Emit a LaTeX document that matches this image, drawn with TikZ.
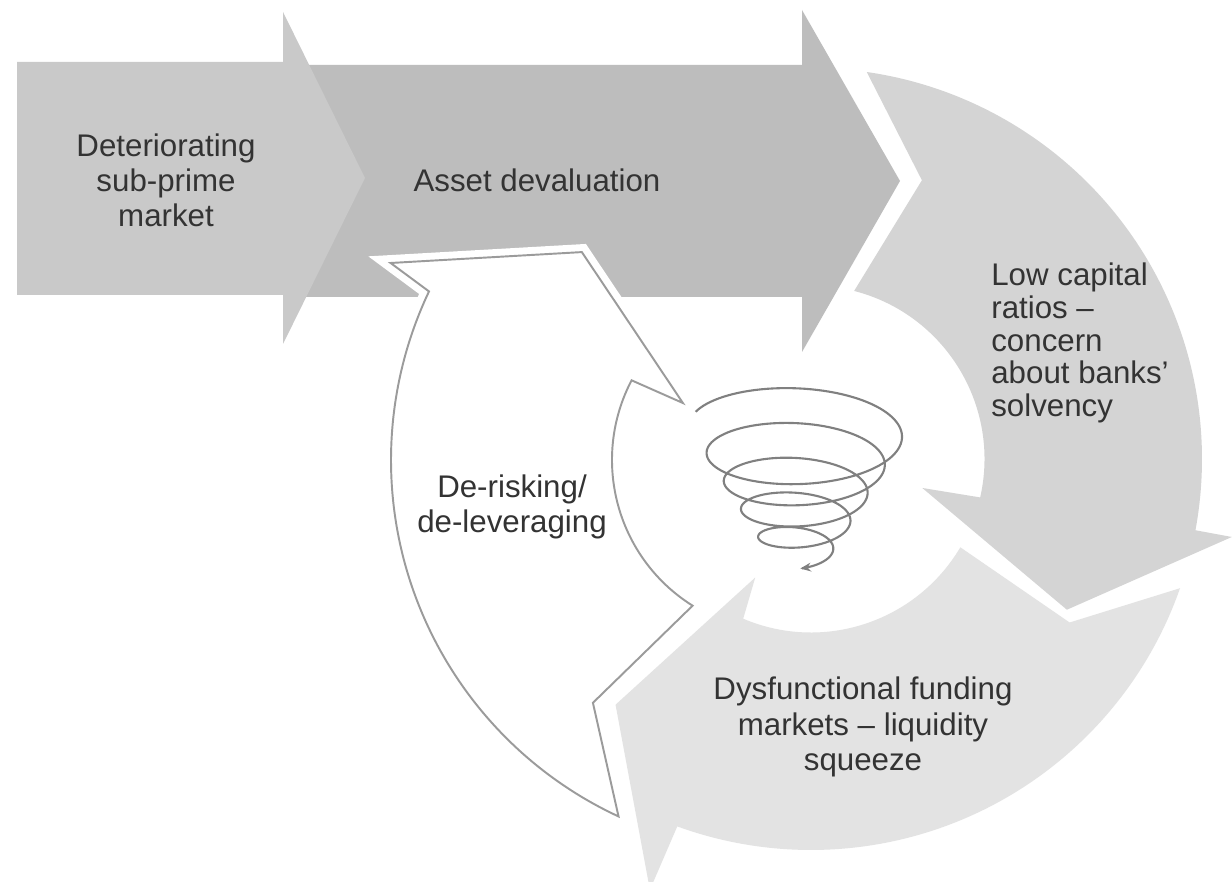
\documentclass[tikz,border=0pt]{standalone}
\usepackage{fontspec}
\setmainfont{Liberation Sans}
\usetikzlibrary{arrows.meta}
\definecolor{subprime}{HTML}{C9C9C9}
\definecolor{asset}{HTML}{BDBDBD}
\definecolor{capital}{HTML}{D4D4D4}
\definecolor{funding}{HTML}{E3E3E3}
\definecolor{outline}{HTML}{9B9B9B}
\definecolor{spiral}{HTML}{808080}
\definecolor{ink}{HTML}{333333}

\begin{document}
\begin{tikzpicture}[x=0.02cm, y=0.02cm,
  lbl/.style={text=ink, font=\fontsize{17.8}{20}\selectfont, align=center, inner sep=0pt}]
\clip (0,0) rectangle (1232,882);
\fill[white] (0,0) rectangle (1232,882);

% straight arrows
\fill[asset] (292,817) -- (802,817) -- (802,872) -- (900,701) -- (802,530) -- (802,585) -- (292,585) -- cycle;
\fill[subprime] (17,820) -- (283,820) -- (283,870) -- (365,704) -- (283,538) -- (283,587) -- (17,587) -- cycle;

% circular arrows
\begin{scope}[shift={(811,423)}]
\fill[capital] (81.8:391) arc[start angle=81.8, end angle=-10.5, radius=391] -- (-10.5:428) -- (-30.5:297) -- (-14.6:115) -- (-12.8:173.5) arc[start angle=-12.8, end angle=75.6, radius=173.5] -- (68.3:300) -- cycle;
\fill[funding] (-19.3:391) arc[start angle=-19.3, end angle=-110, radius=391] -- (-110.5:460) -- (-128.5:314) -- (-115.2:131) -- (-113:173.5) arc[start angle=-113, end angle=-30.6, radius=173.5] -- (-32.3:306) -- cycle;
\end{scope}

\begin{scope}[shift={(784,422)}]
\draw[white, line width=9pt] (245.1:393) arc[start angle=245.1, end angle=154.6, radius=393] -- (153.4:440) -- (134.2:290) -- (150.6:116) -- (152.4:172) arc[start angle=152.4, end angle=237.9, radius=172] -- (231.8:309) -- cycle;
\filldraw[fill=white, draw=outline, line width=1.1pt] (245.1:393) arc[start angle=245.1, end angle=154.6, radius=393] -- (153.4:440) -- (134.2:290) -- (150.6:116) -- (152.4:172) arc[start angle=152.4, end angle=237.9, radius=172] -- (231.8:309) -- cycle;
\end{scope}

% spiral
\draw[spiral, line width=1.2pt, -{Stealth[length=6pt, width=5pt]}] plot[domain=1.1:10.5, samples=500, variable=\t] ({800+(119.2-8.6*\t)*cos(180*\t)}, {472-14*\t-0.4*(119.2-8.6*\t)*sin(180*\t)});

\node[lbl] (1) at (166,702) {Deteriorating\\sub-prime\\market};
\node[lbl] (2) at (537,702) {Asset devaluation};
\node[lbl, align=left, anchor=west, font=\fontsize{17.8}{18.7}\selectfont] (3) at (991,539) {Low capital\\ratios --\\concern\\about banks'\\solvency};
\node[lbl] (4) at (512,375) {De-risking/\\de-leveraging};
\node[lbl] (5) at (863,155) {Dysfunctional funding\\markets -- liquidity\\squeeze};
\end{tikzpicture}
\end{document}
